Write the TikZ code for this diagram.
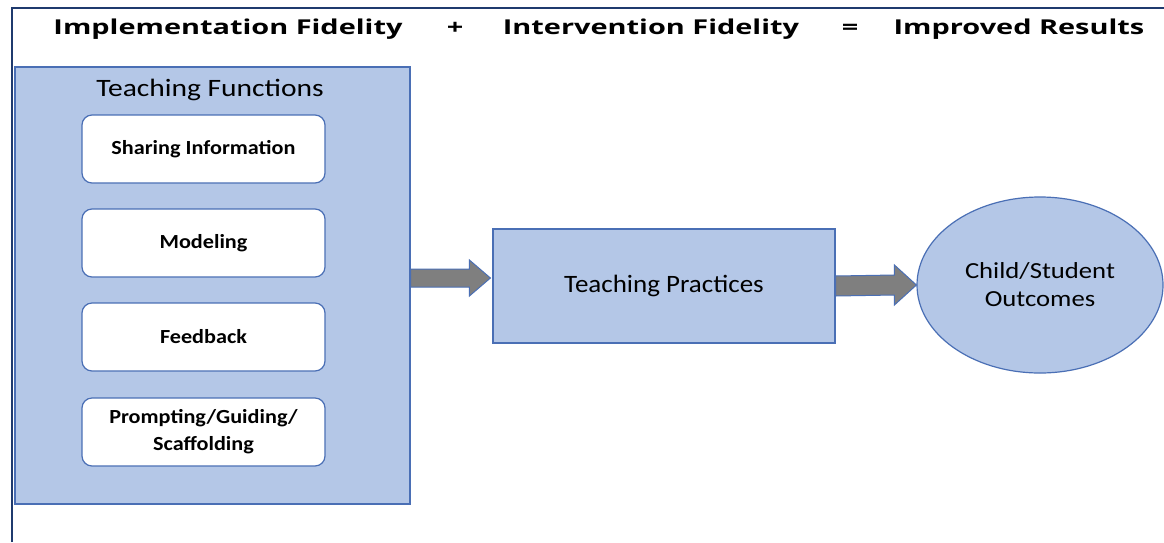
\documentclass[tikz,border=0pt]{standalone}
\usepackage{fontspec}
\setmainfont{Carlito}
\newfontfamily\headfont{Open Sans}
\usetikzlibrary{calc,shapes.geometric}
\definecolor{boxfill}{HTML}{B4C7E7}
\definecolor{boxline}{HTML}{4A6FB5}
\definecolor{navy}{HTML}{1F3A6E}
\definecolor{arrowgray}{HTML}{7F7F7F}
\newcommand{\sx}[2]{\scalebox{#1}[1]{#2}}
\tikzset{
  head/.style={font=\headfont\bfseries\fontsize{20.5}{24}\selectfont, anchor=base, inner sep=0},
  bluebox/.style={draw=boxline, fill=boxfill, line width=1.2pt, inner sep=0},
  funcbox/.style={draw=boxline, fill=white, line width=1.2pt, rounded corners=10pt,
     minimum width=243pt, minimum height=68pt, inner sep=0, align=center,
     font=\bfseries\fontsize{20}{27}\selectfont},
  blockarrow/.style={fill=arrowgray, draw=boxline, line width=1pt, line join=miter},
}
\newcommand{\bigarrow}[5]{% start, end, halfshaft, halfhead, headlen
  \filldraw[blockarrow] ($(#1)+(0,#3)$) -- ($(#2)+(-#5,#3)$) -- ($(#2)+(-#5,#4)$) -- (#2)
    -- ($(#2)+(-#5,-#4)$) -- ($(#2)+(-#5,-#3)$) -- ($(#1)+(0,-#3)$) -- cycle;}
\begin{document}
\begin{tikzpicture}[x=1pt,y=-1pt]
\useasboundingbox (0,0) rectangle (1164,542);
\fill[white] (0,0) rectangle (1164,542);
% frame
\draw[navy, line width=2.5pt] (12,542) -- (12,8) -- (1164,8);
% header
\node[head] (h1) at (228,34) {\sx{1.41}{Implementation Fidelity}};
\node[head] (h2) at (455,34) {\sx{1.41}{+}};
\node[head] (h3) at (651,34) {\sx{1.41}{Intervention Fidelity}};
\node[head] (h4) at (850,34) {\sx{1.41}{=}};
\node[head] (h5) at (1019,34) {\sx{1.41}{Improved Results}};
% teaching functions
\node[bluebox, minimum width=395pt, minimum height=437pt] (tf) at (212.5,285.5) {};
\node[font=\fontsize{25}{30}\selectfont, anchor=base, inner sep=0] (tft) at (210,96) {\sx{1.18}{Teaching Functions}};
\node[funcbox] (f1) at (203.5,149) {\sx{1.11}{Sharing Information}};
\node[funcbox] (f2) at (203.5,243) {\sx{1.11}{Modeling}};
\node[funcbox] (f3) at (203.5,337) {\sx{1.11}{Feedback}};
\node[funcbox] (f4) at (203.5,432) {\sx{1.11}{Prompting/Guiding/}\\\sx{1.11}{Scaffolding}};
% teaching practices
\node[bluebox, minimum width=342pt, minimum height=114pt, font=\fontsize{25}{30}\selectfont] (tp) at (664,286) {\sx{1.08}{Teaching Practices}};
% outcomes
\node[ellipse, draw=boxline, fill=boxfill, line width=1.2pt, minimum width=246pt, minimum height=176pt,
  inner sep=0, align=center, font=\fontsize{23}{28}\selectfont] (out) at (1040,285) {\sx{1.16}{Child/Student}\\\sx{1.16}{Outcomes}};
% arrows
\coordinate (a1s) at ($(tf.east)+(0,-7.5)$);
\coordinate (a1e) at ($(tp.west)+(-2,-8)$);
\bigarrow{a1s}{a1e}{9}{18}{21}
\coordinate (a2s) at ($(tp.east)+(0,0)$);
\coordinate (a2e) at ($(out.west)+(0,0)$);
\bigarrow{a2s}{a2e}{10}{20}{22}
\end{tikzpicture}
\end{document}
